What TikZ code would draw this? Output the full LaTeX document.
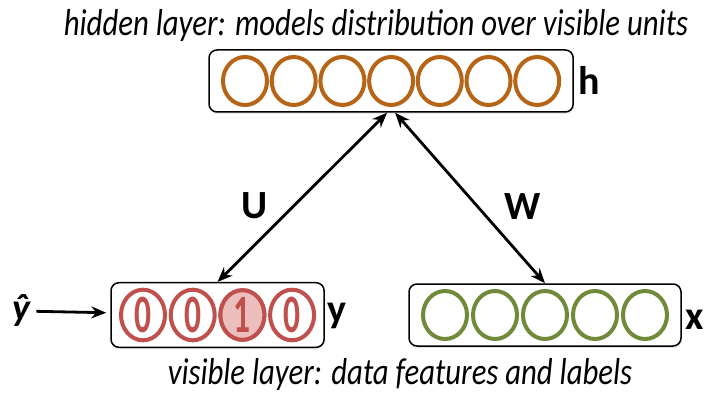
\documentclass[tikz,border=0pt]{standalone}
\usepackage{fontspec}
\setmainfont{Carlito}
\newfontfamily\capfont[FakeStretch=0.82]{Carlito}
\newfontfamily\digitfont[FakeStretch=0.62]{Carlito}
\usetikzlibrary{shapes.geometric, arrows.meta, fit, shadows, backgrounds}

\definecolor{hidbrown}{RGB}{182,100,22}
\definecolor{visgreen}{RGB}{112,138,58}
\definecolor{lblred}{RGB}{192,80,77}
\definecolor{lblpink}{RGB}{236,190,188}

\begin{document}
\begin{tikzpicture}[
        x=1pt, y=-1pt,
        % Define styles
        unit/.style={draw, ellipse, line width=4pt, fill=white, minimum width=44pt, minimum height=48pt, inner sep=0pt},
        hidunit/.style={unit, draw=hidbrown},
        visunit/.style={unit, draw=visgreen},
        lblunit/.style={unit, draw=lblred, text=lblred, font=\digitfont\bfseries\fontsize{54}{54}\selectfont},
        layer/.style={draw, line width=1.5pt, rounded corners=8pt, fill=white, inner xsep=12pt, inner ysep=5pt,
            drop shadow={opacity=0.18, shadow xshift=1pt, shadow yshift=-2pt}},
        caption/.style={font=\capfont\itshape\fontsize{37.5}{44}\selectfont},
        vecname/.style={font=\bfseries\fontsize{40}{44}\selectfont},
        arrow/.style={{Stealth[length=15pt, width=12pt]}-{Stealth[length=15pt, width=12pt]}, line width=2.8pt},
        inarrow/.style={-{Stealth[length=15pt, width=12pt]}, line width=2.8pt}
    ]

    \useasboundingbox (0,0) rectangle (709,395);

    % 1. Hidden layer
    \foreach \i in {1,...,7}
        \node[hidunit] (h\i) at ({245+48.7*(\i-1)}, 81) {};
    \begin{scope}[on background layer]
        \node[layer, fit=(h1) (h7)] (hbox) {};
    \end{scope}
    \node[vecname] (hname) at (589, 80) {h};
    \node[caption] (hidtitle) at (376, 26) {hidden layer: models distribution over visible units};

    % 2. Label units (one-hot)
    \foreach \i/\d in {1/0, 2/0, 3/1, 4/0}
        \node[lblunit] (y\i) at ({143+49.7*(\i-1)}, 315) {\d};
    \node[lblunit, fill=lblpink] at (y3) {1};
    \begin{scope}[on background layer]
        \node[layer, fit=(y1) (y4), inner xsep=8pt] (ybox) {};
    \end{scope}
    \node[vecname] (yname) at (337, 316) {y};
    \node[font=\bfseries\itshape\fontsize{38}{40}\selectfont] (yhat) at (21, 311) {ŷ};
    \draw[inarrow, shorten <=3pt, shorten >=4pt] (yhat) -- (ybox);

    % 3. Data units
    \foreach \i in {1,...,5}
        \node[visunit] (x\i) at ({445+50*(\i-1)}, 315) {};
    \begin{scope}[on background layer]
        \node[layer, fit=(x1) (x5)] (xbox) {};
    \end{scope}
    \node[vecname] (xname) at (695, 320) {x};
    \node[caption] (vistitle) at (400, 375) {visible layer: data features and labels};

    % 4. Weights
    \draw[arrow] ([xshift=-4pt]hbox.south) -- (ybox.north) node[pos=0.55, left=22pt, vecname] (uname) {U};
    \draw[arrow] ([xshift=4pt]hbox.south) -- (xbox.north) node[pos=0.55, right=22pt, vecname] (wname) {W};

\end{tikzpicture}
\end{document}
